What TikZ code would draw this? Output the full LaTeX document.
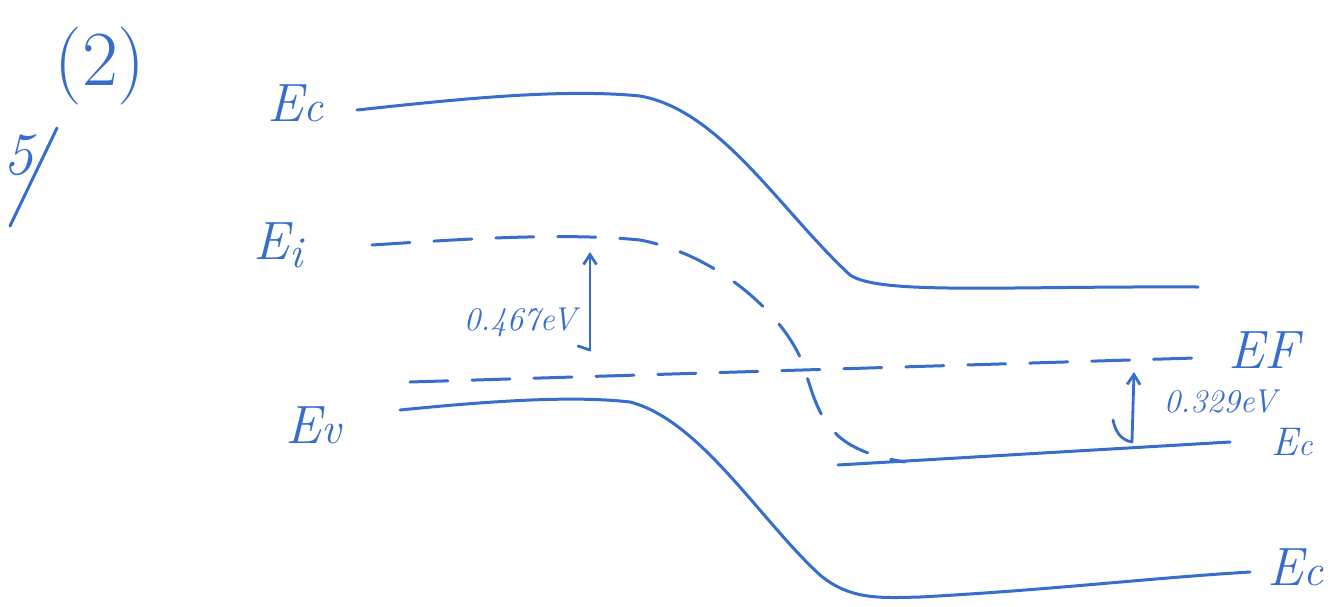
\documentclass[tikz,border=0pt]{standalone}
\usetikzlibrary{arrows.meta}
\definecolor{pen}{RGB}{55,110,205}
\newcommand\bigsz{\fontsize{54}{54}\selectfont}
\newcommand\subsz{\fontsize{44}{44}\selectfont}
\begin{document}
\begin{tikzpicture}[x=1pt,y=-1pt,
  band/.style={pen,line width=3pt,line cap=round},
  dband/.style={band,dash pattern=on 38pt off 24pt},
  lbl/.style={pen,font=\bigsz\itshape,inner sep=0pt},
  vlbl/.style={pen,font=\fontsize{33}{33}\selectfont\itshape,inner sep=0pt},
  gap/.style={pen,line width=2.8pt,line cap=round,-{Straight Barb[length=10pt,width=13pt]}}]
\useasboundingbox[fill=white] (0,0) rectangle (1336,606);
% labels
\node[pen,font=\fontsize{78}{78}\selectfont,inner sep=0pt] (num) at (100,66) {(2)};
\node[pen,inner sep=0pt] (five) at (18,155) {\fontsize{60}{60}\selectfont\itshape 5};
\coordinate (s1) at (57,128);
\coordinate (s2) at (10,226);
\draw[band] (s1) -- (s2);
\node[lbl] (ec) at (295,103) {E{\subsz c}};
\node[lbl] (ei) at (278,245) {E\raisebox{-0.15em}{\subsz i}};
\node[lbl] (ev) at (313,425) {E{\subsz v}};
\node[lbl] (ef) at (1264,350) {EF};
\node[lbl,font=\fontsize{40}{40}\selectfont\itshape] (ec2) at (1292,442) {E{\fontsize{32}{32}\selectfont c}};
\node[lbl] (ec3) at (1295,567) {E{\subsz c}};
% bands
\coordinate (c0) at (357,110);
\coordinate (c1) at (1198,287);
\draw[band] (c0) .. controls (450,100) and (560,88) .. (640,96)
  .. controls (720,110) and (780,210) .. (850,275)
  .. controls (880,295) and (1000,286) .. (c1);
\coordinate (i0) at (372,245);
\coordinate (i1) at (905,462);
\draw[dband] (i0) .. controls (450,240) and (560,232) .. (640,240)
  .. controls (720,255) and (790,320) .. (805,370)
  .. controls (820,420) and (830,450) .. (i1);
\coordinate (f0) at (410,382);
\coordinate (f1) at (1195,358);
\draw[dband] (f0) -- (f1);
\coordinate (v0) at (400,410);
\coordinate (v1) at (1250,572);
\draw[band] (v0) .. controls (480,402) and (570,395) .. (630,402)
  .. controls (700,420) and (760,520) .. (820,575)
  .. controls (850,600) and (880,598) .. (920,597)
  .. controls (1050,590) and (1150,578) .. (v1);
\coordinate (m0) at (838,465);
\coordinate (m1) at (1230,442);
\draw[band] (m0) -- (m1);
% gaps
\coordinate (a0) at (590,350);
\coordinate (a1) at (590,252);
\draw[gap] (a0) -- (a1);
\draw[band,line width=2.8pt] (a0) -- (578,346);
\node[vlbl] (g1) at (520,322) {0.467eV};
\coordinate (b0) at (1132,442);
\coordinate (b1) at (1134,372);
\draw[gap] (b0) -- (b1);
\draw[band,line width=2.8pt] (b0) .. controls (1120,440) and (1115,430) .. (1113,420);
\node[vlbl] (g2) at (1220,402) {0.329eV};
\end{tikzpicture}
\end{document}
